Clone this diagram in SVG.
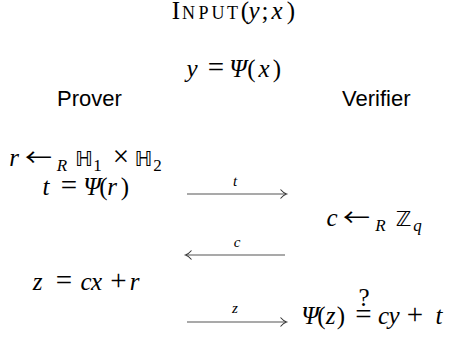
<svg xmlns="http://www.w3.org/2000/svg" width="450" height="339" viewBox="0 0 450 339">
<style>
  .m { font-family: "Liberation Serif", "DejaVu Serif", serif; font-size: 25px; fill: #000; text-anchor: middle; }
  .i { font-style: italic; }
  .op { font-size: 29px; }
  .sc { font-size: 18px; }
  .bb { font-family: "DejaVu Sans", "Liberation Sans", sans-serif; font-size: 21px; }
  .sub { font-size: 17px; }
  .arr { font-family: "Noto Sans CJK SC", "DejaVu Sans", sans-serif; font-size: 24px; fill: #000; }
  .lab { font-family: "Liberation Serif", serif; font-style: italic; font-size: 15px; fill: #000; text-anchor: middle; }
  .role { font-family: "Liberation Sans", "DejaVu Sans", sans-serif; font-size: 22px; fill: #000; }
  .conn { stroke: #555; stroke-width: 1.1; fill: none; }
</style>
<defs>
  <marker id="head" markerUnits="userSpaceOnUse" markerWidth="12" markerHeight="12" refX="0" refY="0" viewBox="-8 -6 10 12" orient="auto" overflow="visible">
    <path d="M-5.5,-4.5 Q-2.5,-1 0.5,0 Q-2.5,1 -5.5,4.5" fill="none" stroke="#333" stroke-width="1.1"/>
  </marker>
</defs>

<g id="title">
  <text class="m" y="19" font-size="22"><tspan x="176">I</tspan><tspan class="sc" x="188.5">N</tspan><tspan class="sc" x="203.5">P</tspan><tspan class="sc" x="218">U</tspan><tspan class="sc" x="232.5">T</tspan><tspan x="245">(</tspan><tspan class="i" x="254">y</tspan><tspan x="265">;</tspan><tspan class="i" x="277">x</tspan><tspan x="291">)</tspan></text>
</g>

<g id="statement">
  <text class="m" y="77"><tspan class="i" x="192">y</tspan><tspan class="op" x="216">=</tspan><tspan class="i" x="238">Ψ</tspan><tspan x="251.5">(</tspan><tspan class="i" x="264">x</tspan><tspan x="277">)</tspan></text>
</g>

<g id="prover">
  <text class="role" x="57" y="106">Prover</text>
</g>

<g id="verifier">
  <text class="role" x="342" y="106">Verifier</text>
</g>

<g id="prover-commit">
  <text class="m i" x="14" y="166">r</text>
  <text class="arr" x="25" y="166" textLength="27" lengthAdjust="spacingAndGlyphs">←</text>
  <text class="m i sub" x="62" y="171">R</text>
  <text class="m bb" x="84" y="166">ℍ</text>
  <text class="m sub" x="97.5" y="171">1</text>
  <text class="m op" x="121" y="166">×</text>
  <text class="m bb" x="143.5" y="166">ℍ</text>
  <text class="m sub" x="157.5" y="171">2</text>
</g>

<g id="prover-t">
  <text class="m" y="195"><tspan class="i" x="46">t</tspan><tspan class="op" x="69">=</tspan><tspan class="i" x="92">Ψ</tspan><tspan x="103.5">(</tspan><tspan class="i" x="112">r</tspan><tspan x="125">)</tspan></text>
</g>

<g id="verifier-challenge">
  <text class="m i" x="332" y="226">c</text>
  <text class="arr" x="343" y="226" textLength="27" lengthAdjust="spacingAndGlyphs">←</text>
  <text class="m i sub" x="380.5" y="231">R</text>
  <text class="m bb" x="403.5" y="226">ℤ</text>
  <text class="m i sub" x="417.5" y="231">q</text>
</g>

<g id="prover-response">
  <text class="m" y="290"><tspan class="i" x="37.5">z</tspan><tspan class="op" x="64">=</tspan><tspan class="i" x="86">c</tspan><tspan class="i" x="96.5">x</tspan><tspan class="op" x="118.5">+</tspan><tspan class="i" x="134.5">r</tspan></text>
</g>

<g id="verifier-check">
  <text class="m" y="324"><tspan class="i" x="310">Ψ</tspan><tspan x="321.5">(</tspan><tspan class="i" x="330.5">z</tspan><tspan x="341">)</tspan><tspan class="op" x="363.5">=</tspan><tspan class="i" x="383.5">c</tspan><tspan class="i" x="394">y</tspan><tspan class="op" x="415">+</tspan><tspan class="i" x="439">t</tspan></text>
  <text class="m" x="364" y="306" font-size="12">?</text>
</g>

<g id="connectors">
  <line class="conn" x1="187" y1="194" x2="286" y2="194" marker-end="url(#head)"/>
  <text class="lab" x="235" y="186">t</text>
  <line class="conn" x1="285" y1="255" x2="186" y2="255" marker-end="url(#head)"/>
  <text class="lab" x="237" y="247">c</text>
  <line class="conn" x1="187" y1="322" x2="286" y2="322" marker-end="url(#head)"/>
  <text class="lab" x="235" y="313">z</text>
</g>
</svg>
